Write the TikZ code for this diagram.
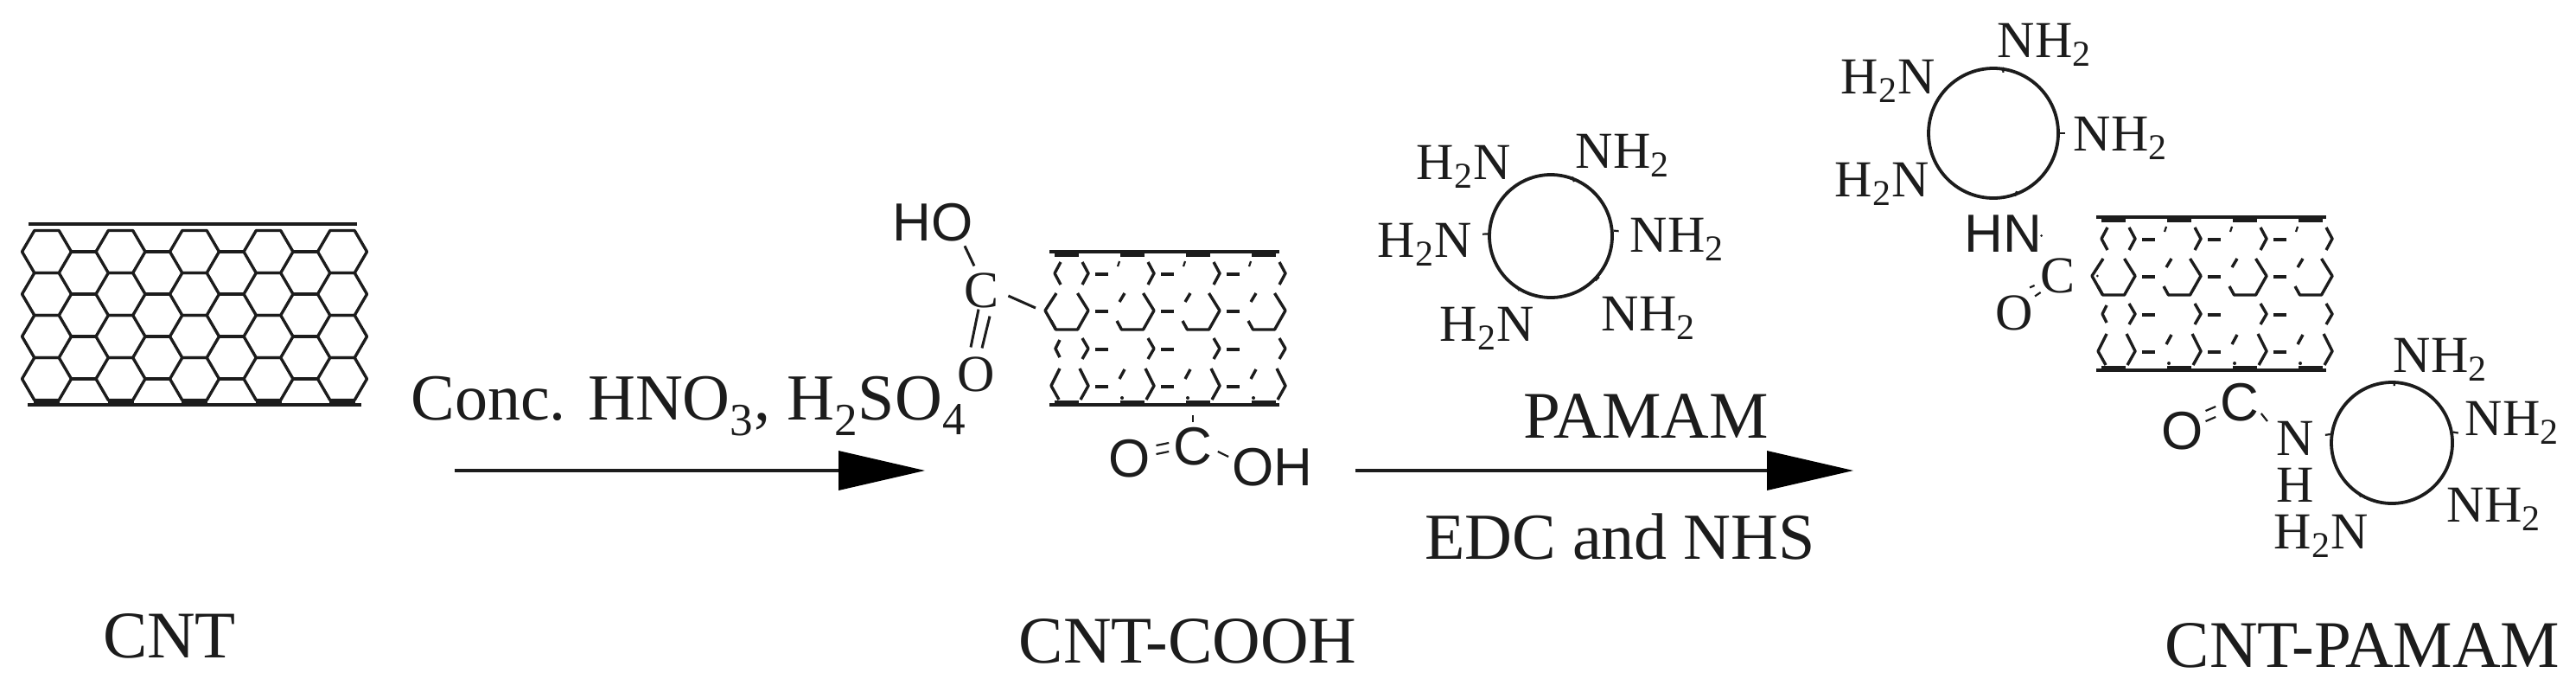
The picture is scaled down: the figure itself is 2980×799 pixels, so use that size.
\documentclass[tikz,border=0pt]{standalone}
\usepackage{fontspec}
\setmainfont{Liberation Serif}
\newfontfamily\chemsans{Liberation Sans}
\definecolor{ink}{HTML}{1C1C1C}
\tikzset{
  big/.style={font=\fontsize{38.5}{40}\selectfont,text=ink,inner sep=0pt},
  reagent/.style={font=\fontsize{38}{40}\selectfont,text=ink,inner sep=0pt},
  chem/.style={font=\fontsize{30}{32}\selectfont,text=ink,inner sep=0pt},
  sans/.style={font=\chemsans\fontsize{31}{33}\selectfont,text=ink,inner sep=0pt},
  bond/.style={draw=ink,line width=1.5pt},
  thinbond/.style={draw=ink,line width=1.1pt},
  hexline/.style={draw=ink,line width=1.7pt,line join=round},
  wall/.style={draw=ink,line width=1.9pt},
  wallbar/.style={fill=ink,draw=none},
  ring/.style={circle,draw=ink,line width=1.9pt,inner sep=0pt},
  reaction/.style={draw=ink,line width=2.4pt},
  headfill/.style={fill=black,draw=none},
}
\newcommand{\ringtick}[2]{\draw[thinbond] (#1.#2) -- ++(#2:6);}
% defective nanotube wall used for both functionalised tubes
\newcommand{\tubeat}[2]{%
\begin{scope}[shift={(#1,#2)}]
  \draw[wall] (0,0) -- (266,0);
  \draw[wall] (0,177) -- (266,177);
  \foreach \i in {0,1,2,3}{
    \pgfmathsetmacro{\cx}{20+76*\i}
    \fill[wallbar] (\cx-14,0) rectangle (\cx+14,6);
    \fill[wallbar] (\cx-14,172) rectangle (\cx+14,178);
    % rows: right chevrons
    \draw[hexline] (\cx+18,25-13) -- (\cx+25,25) -- (\cx+18,25+13);
    \draw[hexline] (\cx+12.5,68-20) -- (\cx+25,68) -- (\cx+12.5,68+22) -- (\cx-12.5,68+22) -- (\cx-18,68+12);
    \draw[hexline] (\cx+18,112-12) -- (\cx+25,112) -- (\cx+18,112+12);
    \draw[hexline] (\cx+15,155-20) -- (\cx+25,155) -- (\cx+16,155+16);
    \ifnum\i<3
      \draw[hexline] (\cx+33,25+1) -- (\cx+48,25+1);
      \draw[hexline] (\cx+33,68+1) -- (\cx+48,68+1);
      \draw[hexline] (\cx+33,112+1) -- (\cx+48,112+1);
      \draw[hexline] (\cx+33,155+1) -- (\cx+48,155+1);
      \draw[thinbond] (\cx+59,25-8) -- (\cx+61,25-14);
      \draw[hexline] (\cx+61,68-10) -- (\cx+67,68-20);
      \draw[hexline] (\cx+61,155-8) -- (\cx+67,155-19);
      \fill[ink] (\cx+64,155+14) circle (2);
    \fi
  }
  % left side of the first column
  \draw[hexline] (13,25-13) -- (6,25) -- (13,25+13);
  \draw[hexline] (8,68-20) -- (-5,68) -- (7.5,68+22);
  \draw[hexline] (12,112-10) -- (7,112) -- (12,112+10);
  \draw[hexline] (12,155-20) -- (2,155) -- (11,155+16);
\end{scope}}
\begin{document}
\begin{tikzpicture}[x=0.5pt,y=-0.5pt]
\useasboundingbox (0,0) rectangle (2980,799);

% ---------- pristine CNT
\coordinate (wallTL) at (33,259); \coordinate (wallTR) at (413,259);
\coordinate (wallBL) at (32,468); \coordinate (wallBR) at (418,468);
\draw[wall] (wallTL) -- (wallTR);
\draw[wall] (wallBL) -- (wallBR);
\foreach \i in {0,...,4}{
  \foreach \j in {0,...,3}{
    \pgfmathsetmacro{\hx}{54+85.5*\i}
    \pgfmathsetmacro{\hy}{291+49*\j}
    \draw[hexline] (\hx-28.5,\hy) -- (\hx-14.2,\hy-24.5) -- (\hx+14.2,\hy-24.5) -- (\hx+28.5,\hy) -- (\hx+14.2,\hy+24.5) -- (\hx-14.2,\hy+24.5) -- cycle;
    \ifnum\i<4
      \draw[hexline] (\hx+28.5,\hy) -- (\hx+57,\hy);
    \fi
  }
  \fill[wallbar] (54+85.5*\i-15,461) rectangle (54+85.5*\i+15,468);
}
\node[big] (cnt) at (196,735) {CNT};

% ---------- first reaction
\node[reagent,anchor=base west] (reagentA) at (475,485) {Conc. HNO\textsubscript{3}, H\textsubscript{2}SO\textsubscript{4}};
\coordinate (a1s) at (526,544); \coordinate (a1e) at (1070,544);
\draw[reaction] (a1s) -- ([xshift=-45pt]a1e);
\fill[headfill] (a1e) -- ++(-100,-23) -- ++(0,46) -- cycle;

% ---------- CNT-COOH
\tubeat{1214}{291}
\node[sans] (hoA) at (1079,257) {HO};
\node[chem] (cA) at (1135,336) {C};
\node[chem] (oA) at (1129,433) {O};
\coordinate (tubeA) at (1198,356);
\draw[bond] ([xshift=18.5pt,yshift=-2.5pt]hoA.south) -- ([xshift=-4pt,yshift=4pt]cA.north);
\draw[bond] ([xshift=-1.5pt,yshift=-0.5pt]cA.south) -- ([xshift=-3pt,yshift=5.5pt]oA.north);
\draw[bond] ([xshift=5pt,yshift=-4.5pt]cA.south) -- ([xshift=3.5pt,yshift=5pt]oA.north);
\draw[bond] ([xshift=5.5pt,yshift=-3pt]cA.east) -- (tubeA);
\node[sans] (oB) at (1307,530) {O};
\node[sans] (cB) at (1380,516) {C};
\node[sans] (ohB) at (1472,540) {OH};
\coordinate (tubeB) at (1380,480);
\draw[thinbond] ([xshift=3pt,yshift=7.5pt]oB.east) -- ([xshift=-2.5pt,yshift=2pt]cB.west);
\draw[thinbond] ([xshift=3pt,yshift=2.5pt]oB.east) -- ([xshift=-2.5pt,yshift=-3pt]cB.west);
\draw[thinbond] ([xshift=3pt,yshift=-3pt]cB.east) -- ([xshift=-2pt,yshift=6pt]ohB.west);
\draw[thinbond] (tubeB) -- ([yshift=3pt]cB.north);
\node[big] (cntcooh) at (1374,741) {CNT-COOH};

% ---------- PAMAM reagent ring
\node[ring,minimum size=71pt] (rA) at (1794,273) {};
\node[chem] at (1693,193) {H\textsubscript{2}N};
\node[chem] at (1877,180) {NH\textsubscript{2}};
\node[chem] at (1648,283) {H\textsubscript{2}N};
\node[chem] at (1940,277) {NH\textsubscript{2}};
\node[chem] at (1720,380) {H\textsubscript{2}N};
\node[chem] at (1907,368) {NH\textsubscript{2}};
\ringtick{rA}{70}\ringtick{rA}{5}\ringtick{rA}{178}\ringtick{rA}{240}\ringtick{rA}{315}

% ---------- second reaction
\node[big] (pamam) at (1904,481) {PAMAM};
\coordinate (a2s) at (1568,544); \coordinate (a2e) at (2144,544);
\draw[reaction] (a2s) -- ([xshift=-45pt]a2e);
\fill[headfill] (a2e) -- ++(-100,-23) -- ++(0,46) -- cycle;
\node[reagent] (edc) at (1874,620) {EDC and NHS};

% ---------- CNT-PAMAM
\tubeat{2425}{251}
\node[ring,minimum size=75pt] (rB) at (2306,154) {};
\node[chem] at (2365,52) {NH\textsubscript{2}};
\node[chem] at (2184,94) {H\textsubscript{2}N};
\node[chem] at (2453,160) {NH\textsubscript{2}};
\node[chem] at (2177,213) {H\textsubscript{2}N};
\ringtick{rB}{0}\ringtick{rB}{-71}\ringtick{rB}{82}
\node[sans] (hnB) at (2317,270) {HN};
\node[chem] (cC) at (2380,319) {C};
\node[chem] (oC) at (2330,362) {O};
\draw[thinbond] ([xshift=-2pt,yshift=4.5pt]oC.north east) -- ([xshift=-3pt,yshift=-5.5pt]cC.west);
\draw[thinbond] ([xshift=1pt,yshift=-0.5pt]oC.north east) -- ([xshift=0.5pt,yshift=-9.5pt]cC.west);
\fill[ink] ([xshift=1pt,yshift=13pt]cC.north west) circle (1.5);
\fill[ink] ([xshift=13pt]cC.east) circle (1.5);

\node[ring,minimum size=70pt] (rC) at (2767,512) {};
\node[chem] at (2823,416) {NH\textsubscript{2}};
\node[chem] at (2906,489) {NH\textsubscript{2}};
\node[chem] at (2885,589) {NH\textsubscript{2}};
\node[chem] at (2685,620) {H\textsubscript{2}N};
\node[chem] (nC) at (2655,507) {N};
\node[chem] (hC) at (2655,561) {H};
\node[sans] (cD) at (2591,465) {C};
\node[sans] (oD) at (2525,498) {O};
\draw[thinbond] ([xshift=1pt,yshift=11.5pt]oD.east) -- ([xshift=-2.5pt,yshift=-2.5pt]cD.west);
\draw[thinbond] ([xshift=1pt,yshift=5.5pt]oD.east) -- ([xshift=-2.5pt,yshift=-8.5pt]cD.west);
\draw[thinbond] ([xshift=1pt,yshift=-6.5pt]cD.east) -- ([xshift=-5pt,yshift=10pt]nC.west);
\ringtick{rC}{88}\ringtick{rC}{10}\ringtick{rC}{172}\ringtick{rC}{240}
\node[big] (cntpamam) at (2733,746) {CNT-PAMAM};
\end{tikzpicture}
\end{document}
